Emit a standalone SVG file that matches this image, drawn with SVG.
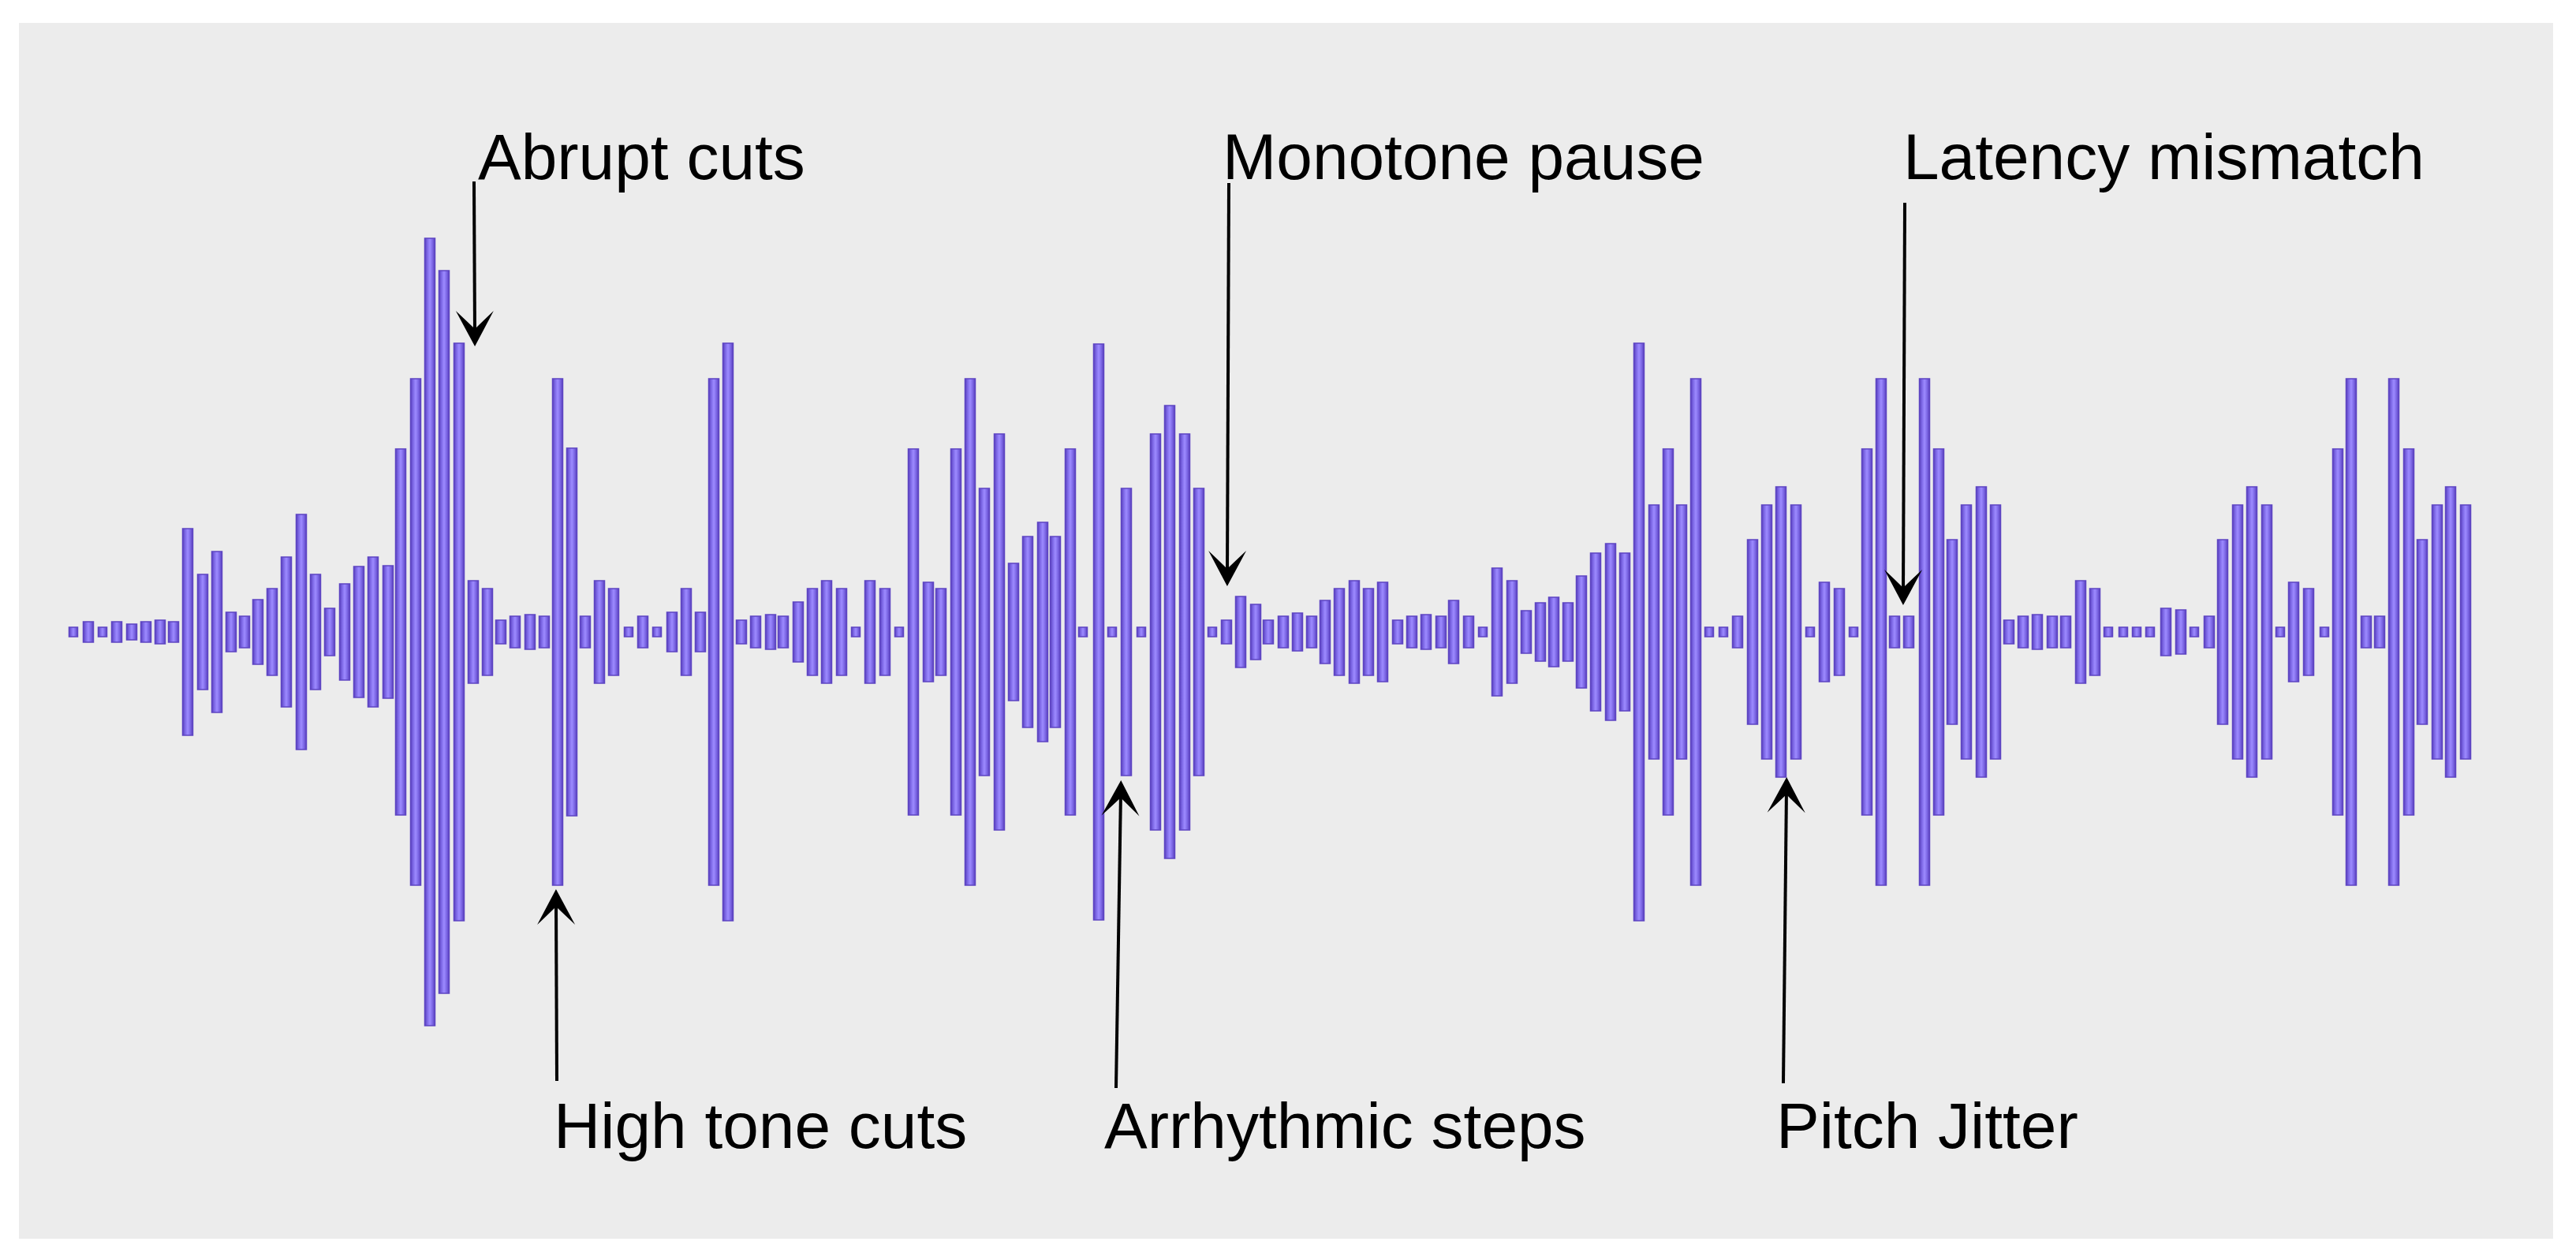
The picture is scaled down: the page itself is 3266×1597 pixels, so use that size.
<svg xmlns="http://www.w3.org/2000/svg" width="3266" height="1597" viewBox="0 0 3266 1597">
<defs>
<linearGradient id="barGrad" x1="0" y1="0" x2="1" y2="0">
<stop offset="0" stop-color="#5a40bd"/>
<stop offset="0.25" stop-color="#7d68e6"/>
<stop offset="0.5" stop-color="#9d8bff"/>
<stop offset="0.75" stop-color="#7d68e6"/>
<stop offset="1" stop-color="#5a40bd"/>
</linearGradient>
<marker id="head" markerUnits="userSpaceOnUse" viewBox="-60 -28 64 56" markerWidth="64" markerHeight="56" refX="-15" refY="0" orient="auto">
<path d="M0,0 L-45,-24 Q-28,-6 -22,0 Q-28,6 -45,24 Z" fill="#000"/>
</marker>
<style>
.lbl{font-family:"Liberation Sans",Arial,sans-serif;font-size:82px;fill:#000}
.ar{stroke:#000;stroke-width:4;fill:none;marker-end:url(#head)}
#waveform rect{fill:url(#barGrad);stroke:#5d44c2;stroke-width:1.5}
</style>
</defs>
<rect x="0" y="0" width="3266" height="1597" fill="#ffffff"/>
<rect x="24" y="29" width="3213" height="1541" fill="#ececec"/>
<g id="waveform">
<rect x="87.5" y="795" width="11" height="12"/>
<rect x="105.5" y="788" width="13" height="26"/>
<rect x="124.5" y="795" width="11" height="12"/>
<rect x="141.5" y="788" width="13" height="26"/>
<rect x="160.5" y="791" width="13" height="20"/>
<rect x="178.5" y="788" width="13" height="26"/>
<rect x="196.5" y="786" width="13" height="30"/>
<rect x="213.5" y="788" width="13" height="26"/>
<rect x="231.5" y="670" width="13" height="262"/>
<rect x="250.5" y="728" width="13" height="146"/>
<rect x="268.5" y="699" width="13" height="204"/>
<rect x="286.5" y="776" width="13" height="50"/>
<rect x="303.5" y="781" width="13" height="40"/>
<rect x="320.5" y="760" width="13" height="82"/>
<rect x="338.5" y="746" width="13" height="110"/>
<rect x="356.5" y="706" width="13" height="190"/>
<rect x="375.5" y="652" width="13" height="298"/>
<rect x="393.5" y="728" width="13" height="146"/>
<rect x="411.5" y="771" width="13" height="60"/>
<rect x="430.5" y="740" width="13" height="122"/>
<rect x="448.5" y="718" width="13" height="166"/>
<rect x="466.5" y="706" width="13" height="190"/>
<rect x="485.5" y="717" width="13" height="168"/>
<rect x="501.5" y="569" width="13" height="464"/>
<rect x="520.5" y="480" width="13" height="642"/>
<rect x="538.5" y="302" width="13" height="998"/>
<rect x="556.5" y="343" width="13" height="916"/>
<rect x="575.5" y="435" width="13" height="732"/>
<rect x="593.5" y="736" width="13" height="130"/>
<rect x="611.5" y="746" width="13" height="110"/>
<rect x="628.5" y="786" width="13" height="30"/>
<rect x="646.5" y="781" width="13" height="40"/>
<rect x="665.5" y="779" width="13" height="44"/>
<rect x="683.5" y="781" width="13" height="40"/>
<rect x="700.5" y="480" width="13" height="642"/>
<rect x="718.5" y="568" width="13" height="466"/>
<rect x="735.5" y="781" width="13" height="40"/>
<rect x="753.5" y="736" width="13" height="130"/>
<rect x="771.5" y="746" width="13" height="110"/>
<rect x="791.5" y="795" width="11" height="12"/>
<rect x="808.5" y="781" width="13" height="40"/>
<rect x="827.5" y="795" width="11" height="12"/>
<rect x="845.5" y="776" width="13" height="50"/>
<rect x="863.5" y="746" width="13" height="110"/>
<rect x="881.5" y="776" width="13" height="50"/>
<rect x="898.5" y="480" width="13" height="642"/>
<rect x="916.5" y="435" width="13" height="732"/>
<rect x="933.5" y="786" width="13" height="30"/>
<rect x="951.5" y="781" width="13" height="40"/>
<rect x="970.5" y="779" width="13" height="44"/>
<rect x="986.5" y="781" width="13" height="40"/>
<rect x="1005.5" y="763" width="13" height="76"/>
<rect x="1023.5" y="746" width="13" height="110"/>
<rect x="1041.5" y="736" width="13" height="130"/>
<rect x="1060.5" y="746" width="13" height="110"/>
<rect x="1079.5" y="795" width="11" height="12"/>
<rect x="1096.5" y="736" width="13" height="130"/>
<rect x="1115.5" y="746" width="13" height="110"/>
<rect x="1134.5" y="795" width="11" height="12"/>
<rect x="1151.5" y="569" width="13" height="464"/>
<rect x="1170.5" y="738" width="13" height="126"/>
<rect x="1186.5" y="746" width="13" height="110"/>
<rect x="1205.5" y="569" width="13" height="464"/>
<rect x="1223.5" y="480" width="13" height="642"/>
<rect x="1241.5" y="619" width="13" height="364"/>
<rect x="1260.5" y="550" width="13" height="502"/>
<rect x="1278.5" y="714" width="13" height="174"/>
<rect x="1296.5" y="680" width="13" height="242"/>
<rect x="1315.5" y="662" width="13" height="278"/>
<rect x="1331.5" y="680" width="13" height="242"/>
<rect x="1350.5" y="569" width="13" height="464"/>
<rect x="1367.5" y="795" width="11" height="12"/>
<rect x="1386.5" y="436" width="13" height="730"/>
<rect x="1404.5" y="795" width="11" height="12"/>
<rect x="1421.5" y="619" width="13" height="364"/>
<rect x="1441.5" y="795" width="11" height="12"/>
<rect x="1458.5" y="550" width="13" height="502"/>
<rect x="1476.5" y="514" width="13" height="574"/>
<rect x="1495.5" y="550" width="13" height="502"/>
<rect x="1513.5" y="619" width="13" height="364"/>
<rect x="1531.5" y="795" width="11" height="12"/>
<rect x="1548.5" y="786" width="13" height="30"/>
<rect x="1566.5" y="756" width="13" height="90"/>
<rect x="1585.5" y="766" width="13" height="70"/>
<rect x="1601.5" y="786" width="13" height="30"/>
<rect x="1620.5" y="781" width="13" height="40"/>
<rect x="1638.5" y="777" width="13" height="48"/>
<rect x="1656.5" y="781" width="13" height="40"/>
<rect x="1673.5" y="761" width="13" height="80"/>
<rect x="1691.5" y="746" width="13" height="110"/>
<rect x="1710.5" y="736" width="13" height="130"/>
<rect x="1728.5" y="746" width="13" height="110"/>
<rect x="1746.5" y="738" width="13" height="126"/>
<rect x="1765.5" y="786" width="13" height="30"/>
<rect x="1783.5" y="781" width="13" height="40"/>
<rect x="1801.5" y="779" width="13" height="44"/>
<rect x="1820.5" y="781" width="13" height="40"/>
<rect x="1836.5" y="761" width="13" height="80"/>
<rect x="1855.5" y="781" width="13" height="40"/>
<rect x="1874.5" y="795" width="11" height="12"/>
<rect x="1891.5" y="720" width="13" height="162"/>
<rect x="1910.5" y="736" width="13" height="130"/>
<rect x="1928.5" y="774" width="13" height="54"/>
<rect x="1946.5" y="764" width="13" height="74"/>
<rect x="1963.5" y="757" width="13" height="88"/>
<rect x="1981.5" y="764" width="13" height="74"/>
<rect x="1998.5" y="730" width="13" height="142"/>
<rect x="2016.5" y="701" width="13" height="200"/>
<rect x="2035.5" y="689" width="13" height="224"/>
<rect x="2053.5" y="701" width="13" height="200"/>
<rect x="2071.5" y="435" width="13" height="732"/>
<rect x="2090.5" y="640" width="13" height="322"/>
<rect x="2108.5" y="569" width="13" height="464"/>
<rect x="2125.5" y="640" width="13" height="322"/>
<rect x="2143.5" y="480" width="13" height="642"/>
<rect x="2161.5" y="795" width="11" height="12"/>
<rect x="2179.5" y="795" width="11" height="12"/>
<rect x="2196.5" y="781" width="13" height="40"/>
<rect x="2215.5" y="684" width="13" height="234"/>
<rect x="2233.5" y="640" width="13" height="322"/>
<rect x="2251.5" y="617" width="13" height="368"/>
<rect x="2270.5" y="640" width="13" height="322"/>
<rect x="2289.5" y="795" width="11" height="12"/>
<rect x="2306.5" y="738" width="13" height="126"/>
<rect x="2325.5" y="746" width="13" height="110"/>
<rect x="2344.5" y="795" width="11" height="12"/>
<rect x="2360.5" y="569" width="13" height="464"/>
<rect x="2378.5" y="480" width="13" height="642"/>
<rect x="2395.5" y="781" width="13" height="40"/>
<rect x="2413.5" y="781" width="13" height="40"/>
<rect x="2433.5" y="480" width="13" height="642"/>
<rect x="2451.5" y="569" width="13" height="464"/>
<rect x="2468.5" y="684" width="13" height="234"/>
<rect x="2486.5" y="640" width="13" height="322"/>
<rect x="2505.5" y="617" width="13" height="368"/>
<rect x="2523.5" y="640" width="13" height="322"/>
<rect x="2540.5" y="786" width="13" height="30"/>
<rect x="2558.5" y="781" width="13" height="40"/>
<rect x="2576.5" y="779" width="13" height="44"/>
<rect x="2595.5" y="781" width="13" height="40"/>
<rect x="2612.5" y="781" width="13" height="40"/>
<rect x="2631.5" y="736" width="13" height="130"/>
<rect x="2649.5" y="746" width="13" height="110"/>
<rect x="2667.5" y="795" width="11" height="12"/>
<rect x="2686.5" y="795" width="11" height="12"/>
<rect x="2703.5" y="795" width="11" height="12"/>
<rect x="2720.5" y="795" width="11" height="12"/>
<rect x="2739.5" y="771" width="13" height="60"/>
<rect x="2758.5" y="773" width="13" height="56"/>
<rect x="2776.5" y="795" width="11" height="12"/>
<rect x="2794.5" y="781" width="13" height="40"/>
<rect x="2811.5" y="684" width="13" height="234"/>
<rect x="2830.5" y="640" width="13" height="322"/>
<rect x="2848.5" y="617" width="13" height="368"/>
<rect x="2867.5" y="640" width="13" height="322"/>
<rect x="2885.5" y="795" width="11" height="12"/>
<rect x="2901.5" y="738" width="13" height="126"/>
<rect x="2920.5" y="746" width="13" height="110"/>
<rect x="2941.5" y="795" width="11" height="12"/>
<rect x="2957.5" y="569" width="13" height="464"/>
<rect x="2974.5" y="480" width="13" height="642"/>
<rect x="2993.5" y="781" width="13" height="40"/>
<rect x="3010.5" y="781" width="13" height="40"/>
<rect x="3028.5" y="480" width="13" height="642"/>
<rect x="3047.5" y="569" width="13" height="464"/>
<rect x="3064.5" y="684" width="13" height="234"/>
<rect x="3083.5" y="640" width="13" height="322"/>
<rect x="3100.5" y="617" width="13" height="368"/>
<rect x="3119.5" y="640" width="13" height="322"/>
</g>
<g id="connectors">
<line class="ar" x1="601" y1="230" x2="602" y2="424"/>
<line class="ar" x1="1558" y1="232" x2="1556" y2="728"/>
<line class="ar" x1="2415" y1="257" x2="2413" y2="752"/>
<line class="ar" x1="706" y1="1370" x2="705" y2="1142"/>
<line class="ar" x1="1415" y1="1379" x2="1421" y2="1004"/>
<line class="ar" x1="2261" y1="1373" x2="2265" y2="1000"/>
</g>
<g id="label-abrupt-cuts"><text class="lbl" x="606" y="227">Abrupt cuts</text></g>
<g id="label-monotone-pause"><text class="lbl" x="1550" y="227">Monotone pause</text></g>
<g id="label-latency-mismatch"><text class="lbl" x="2413" y="227">Latency mismatch</text></g>
<g id="label-high-tone-cuts"><text class="lbl" x="702" y="1455">High tone cuts</text></g>
<g id="label-arrhythmic-steps"><text class="lbl" x="1400" y="1455">Arrhythmic steps</text></g>
<g id="label-pitch-jitter"><text class="lbl" x="2252" y="1455">Pitch Jitter</text></g>
</svg>
